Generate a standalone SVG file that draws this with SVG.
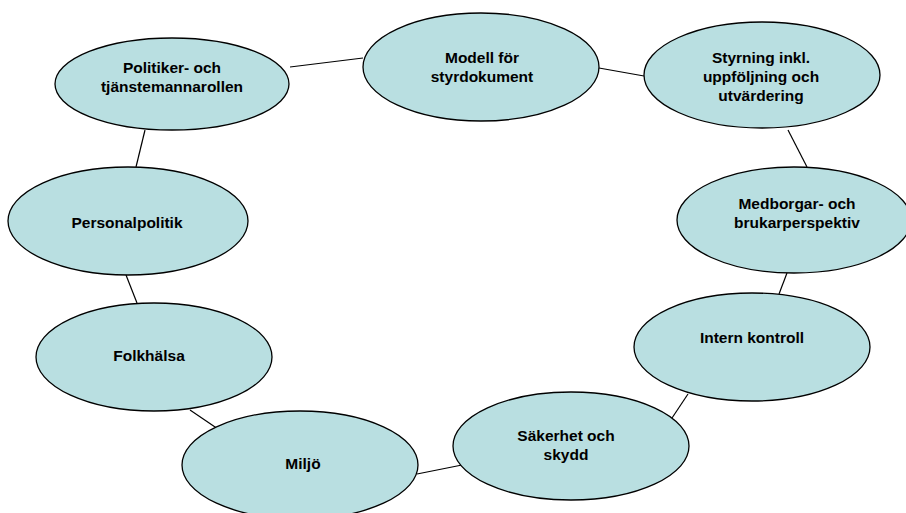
<svg xmlns="http://www.w3.org/2000/svg" width="906" height="513" viewBox="0 0 906 513">
<style>
.n ellipse{fill:#b9dfe1;stroke:#000;stroke-width:1.3}
.n text{font-family:"Liberation Sans",Arial,sans-serif;font-weight:bold;font-size:15.5px;fill:#000;text-anchor:middle}
.c line{stroke:#000;stroke-width:1.2}
</style>
<rect width="906" height="513" fill="#fff"/>
<g class="c" id="connectors">
<line x1="290" y1="67" x2="363" y2="58"/>
<line x1="599" y1="68" x2="644" y2="76"/>
<line x1="788" y1="130" x2="807" y2="167"/>
<line x1="145" y1="130" x2="136" y2="167"/>
<line x1="126" y1="275" x2="137" y2="303"/>
<line x1="190" y1="410" x2="218" y2="429"/>
<line x1="417" y1="474" x2="462" y2="465"/>
<line x1="672" y1="418" x2="688" y2="394"/>
<line x1="787" y1="273" x2="779" y2="294"/>
</g>
<g class="n" id="politiker"><ellipse cx="172" cy="84" rx="117" ry="46"/><text x="172" y="73">Politiker- och</text><text x="172" y="92">tjänstemannarollen</text></g>
<g class="n" id="modell"><ellipse cx="481" cy="67" rx="118" ry="54"/><text x="482" y="63">Modell för</text><text x="482" y="82">styrdokument</text></g>
<g class="n" id="styrning"><ellipse cx="762" cy="75" rx="118" ry="53"/><text x="761" y="63">Styrning inkl.</text><text x="761" y="82">uppföljning och</text><text x="761" y="101">utvärdering</text></g>
<g class="n" id="personal"><ellipse cx="128" cy="221" rx="120" ry="54"/><text x="127" y="228">Personalpolitik</text></g>
<g class="n" id="medborgar"><ellipse cx="794" cy="220" rx="117" ry="53"/><text x="797" y="209">Medborgar- och</text><text x="797" y="228">brukarperspektiv</text></g>
<g class="n" id="folkhalsa"><ellipse cx="154" cy="357" rx="118" ry="54"/><text x="149" y="361">Folkhälsa</text></g>
<g class="n" id="intern"><ellipse cx="752" cy="347" rx="118" ry="54"/><text x="752" y="343">Intern kontroll</text></g>
<g class="n" id="miljo"><ellipse cx="300" cy="465" rx="118" ry="54"/><text x="303" y="469">Miljö</text></g>
<g class="n" id="sakerhet"><ellipse cx="571" cy="446" rx="118" ry="54"/><text x="566" y="441">Säkerhet och</text><text x="566" y="460">skydd</text></g>
</svg>
